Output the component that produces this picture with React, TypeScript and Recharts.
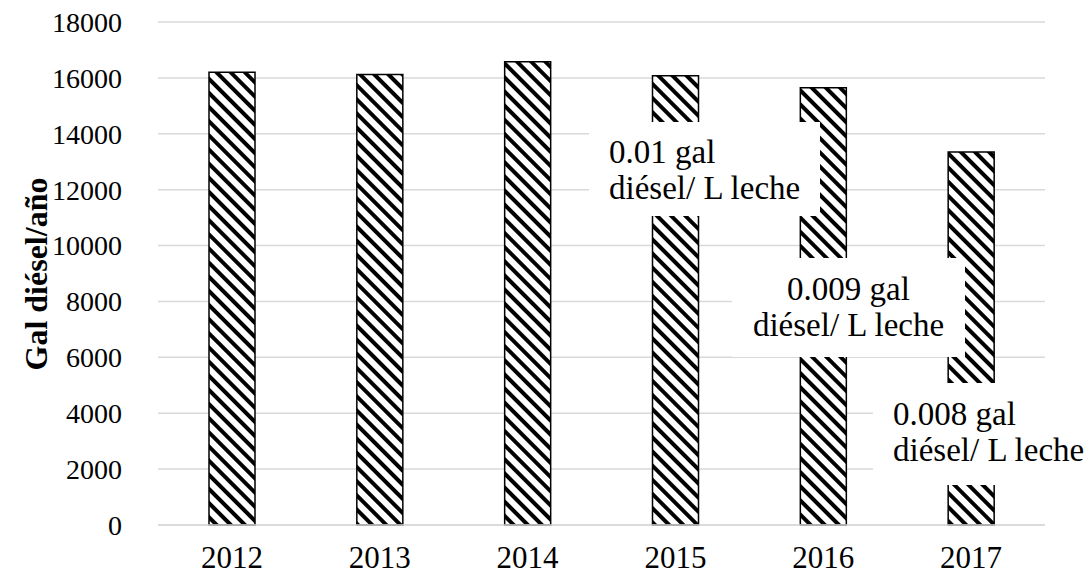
import React from "react";
import {
  BarChart,
  Bar,
  XAxis,
  YAxis,
  CartesianGrid,
} from "recharts";

// Annual diesel consumption (gal/year)
const years = ["2012", "2013", "2014", "2015", "2016", "2017"];
const diesel = [16200, 16120, 16580, 16080, 15650, 13350];
const yTicks = [0, 2000, 4000, 6000, 8000, 10000, 12000, 14000, 16000, 18000];

// Text boxes laid over the bars (diesel per litre of milk)
const noteLines = [
  ["0.01 gal", "diésel/ L leche"],
  ["0.009 gal", "diésel/ L leche"],
  ["0.008 gal", "diésel/ L leche"],
];

const FONT = "Liberation Serif, DejaVu Serif, serif";
const GRID = "#d9d9d9";

const data = years.map((year, i) => ({ year, value: diesel[i] }));

interface NoteProps {
  lines: string[];
  left: number;
  top: number;
  width: number;
  height: number;
  padTop: number;
  padLeft?: number;
  align?: "left" | "center";
}

const Note = ({ lines, left, top, width, height, padTop, padLeft = 0, align = "left" }: NoteProps) => (
  <div
    style={{
      position: "absolute",
      left,
      top,
      width,
      height,
      background: "#fff",
      boxSizing: "border-box",
      paddingTop: padTop,
      paddingLeft: padLeft,
      textAlign: align,
      fontFamily: FONT,
      fontSize: 33,
      lineHeight: "36px",
      color: "#000",
      whiteSpace: "nowrap",
    }}
  >
    {lines.map((l) => (
      <div key={l}>{l}</div>
    ))}
  </div>
);

const YLabel = () => (
  <text
    x={36}
    y={274}
    transform="rotate(-90 36 274)"
    textAnchor="middle"
    dominantBaseline="central"
    fontFamily={FONT}
    fontSize={32}
    fontWeight="bold"
    fill="#000"
  >
    Gal diésel/año
  </text>
);

export default function App() {
  return (
    <div
      style={{
        position: "absolute",
        left: 0,
        top: 0,
        width: 1089,
        height: 576,
        background: "#fff",
        overflow: "hidden",
        fontFamily: FONT,
      }}
    >
      <BarChart
        width={1089}
        height={576}
        data={data}
        margin={{ top: 22, right: 44, left: 0, bottom: 0 }}
        barSize={46}
      >
        <defs>
          <pattern
            id="diag"
            width={10}
            height={10}
            patternUnits="userSpaceOnUse"
            patternTransform="rotate(-45)"
          >
            <rect width={10} height={10} fill="#fff" />
            <rect width={4} height={10} fill="#000" />
          </pattern>
        </defs>
        <CartesianGrid vertical={false} stroke={GRID} strokeWidth={1.5} />
        <XAxis
          dataKey="year"
          height={51}
          tickLine={false}
          axisLine={{ stroke: GRID, strokeWidth: 1.5 }}
          tickMargin={15}
          tick={{ fontFamily: FONT, fontSize: 31, fill: "#000" }}
          interval={0}
        />
        <YAxis
          width={158}
          domain={[0, 18000]}
          ticks={yTicks}
          tickLine={false}
          axisLine={false}
          tickMargin={30}
          tick={{ fontFamily: FONT, fontSize: 28, fill: "#000" }}
          label={{ content: <YLabel /> }}
        />
        <Bar
          dataKey="value"
          fill="url(#diag)"
          stroke="#000"
          strokeWidth={1.5}
          isAnimationActive={false}
        />
      </BarChart>
      <Note lines={noteLines[0]} left={589} top={122} width={231} height={94} padTop={12} padLeft={20} />
      <Note lines={noteLines[1]} left={732} top={258} width={233} height={99} padTop={13} align="center" />
      <Note lines={noteLines[2]} left={873} top={383} width={216} height={102} padTop={13} padLeft={20} />
    </div>
  );
}
